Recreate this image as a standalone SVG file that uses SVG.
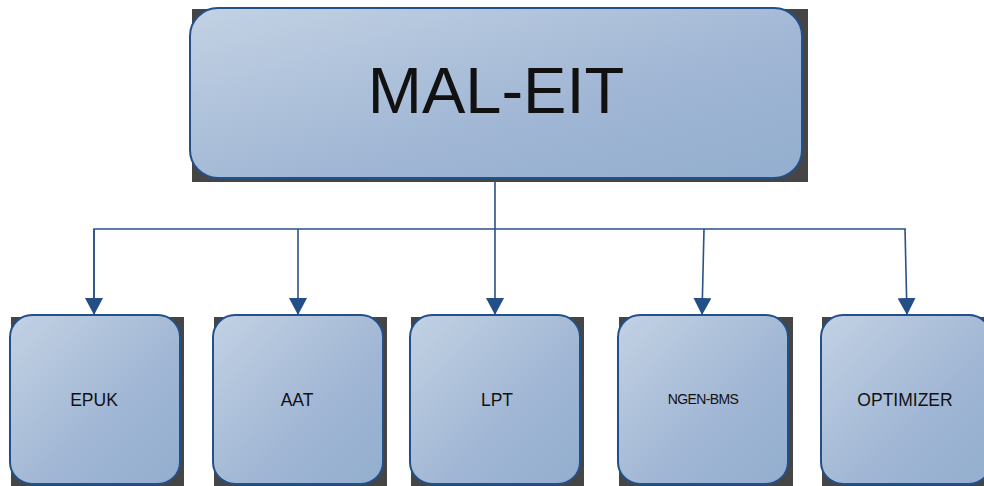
<svg xmlns="http://www.w3.org/2000/svg" width="984" height="486" viewBox="0 0 984 486">
<style>
.shadow{fill:#454545}
.box{fill:url(#g);stroke:#24508a;stroke-width:2}
.lbl{font-family:"Liberation Sans",Arial,sans-serif;fill:#111;text-anchor:middle}
.conn{fill:none;stroke:#2a5189;stroke-width:1.6}
</style>
<defs>
<linearGradient id="g" x1="0" y1="0" x2="1" y2="1">
<stop offset="0" stop-color="#c3d2e4"/>
<stop offset="0.6" stop-color="#a0b6d4"/>
<stop offset="1" stop-color="#93aecf"/>
</linearGradient>
<marker id="arr" markerUnits="userSpaceOnUse" markerWidth="18" markerHeight="18" viewBox="0 0 18 18" refX="17" refY="9" orient="auto">
<path d="M0,0 L17,9 L0,18 Z" fill="#244e87"/>
</marker>
</defs>
<g id="connectors">
<line class="conn" x1="495" y1="178" x2="495" y2="315" marker-end="url(#arr)"/>
<polyline class="conn" points="94,315 94,229 906,229"/>
<line class="conn" x1="94" y1="229" x2="94" y2="315" marker-end="url(#arr)"/>
<line class="conn" x1="298" y1="229" x2="298" y2="315" marker-end="url(#arr)"/>
<line class="conn" x1="704" y1="229" x2="702" y2="315" marker-end="url(#arr)"/>
<line class="conn" x1="905" y1="229" x2="907" y2="315" marker-end="url(#arr)"/>
</g>
<g id="mal-eit">
<rect class="shadow" x="192" y="9" width="616" height="173"/>
<rect class="box" x="190" y="8" width="612" height="170" rx="28"/>
<text class="lbl" x="496" y="113" font-size="65">MAL-EIT</text>
</g>
<g id="epuk">
<rect class="shadow" x="11" y="317" width="173" height="172"/>
<rect class="box" x="10" y="315" width="170" height="169" rx="22"/>
<text class="lbl" x="94" y="406" font-size="17.5">EPUK</text>
</g>
<g id="aat">
<rect class="shadow" x="214" y="317" width="173" height="172"/>
<rect class="box" x="213" y="315" width="170" height="169" rx="22"/>
<text class="lbl" x="297" y="406" font-size="17.5">AAT</text>
</g>
<g id="lpt">
<rect class="shadow" x="411" y="317" width="173" height="172"/>
<rect class="box" x="410" y="315" width="170" height="169" rx="22"/>
<text class="lbl" x="497" y="406" font-size="17.5">LPT</text>
</g>
<g id="ngen-bms">
<rect class="shadow" x="619" y="317" width="174" height="172"/>
<rect class="box" x="618" y="315" width="170" height="169" rx="22"/>
<text class="lbl" x="703" y="404" font-size="14" letter-spacing="-0.6">NGEN-BMS</text>
</g>
<g id="optimizer">
<rect class="shadow" x="822" y="317" width="173" height="172"/>
<rect class="box" x="821" y="315" width="170" height="169" rx="22"/>
<text class="lbl" x="905" y="406" font-size="17.5">OPTIMIZER</text>
</g>
</svg>
